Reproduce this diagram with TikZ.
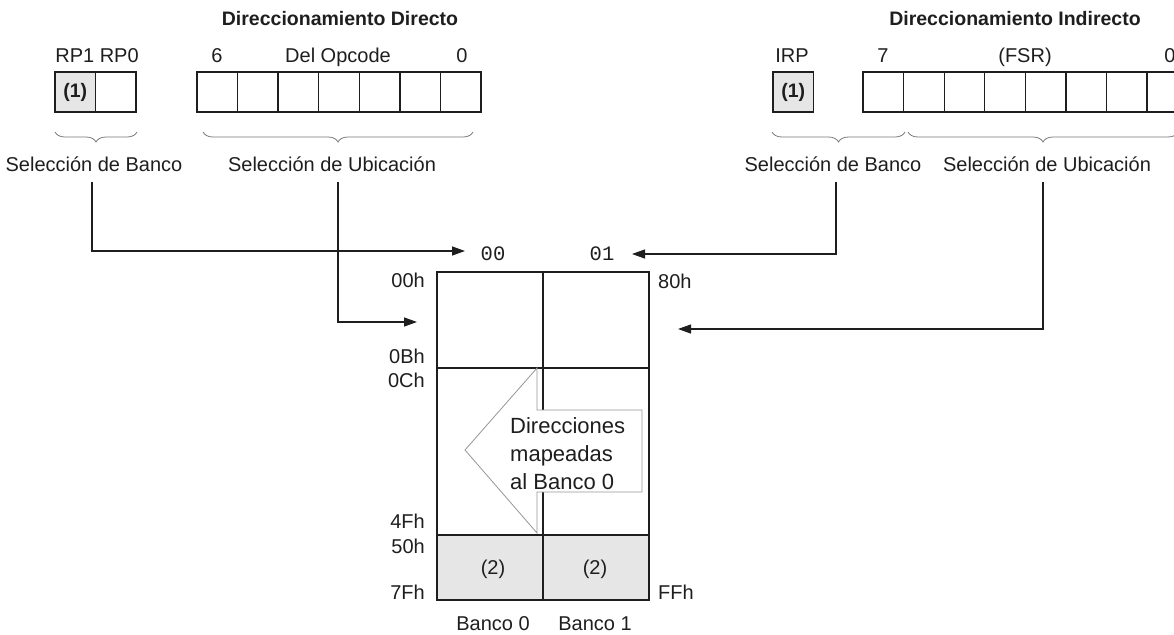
\documentclass[tikz,border=0pt]{standalone}
\usepackage{fontspec}
\setmainfont{Liberation Sans}
\setmonofont{Liberation Mono}
\usetikzlibrary{arrows.meta,decorations.pathreplacing}
\definecolor{cellgray}{RGB}{230,230,230}
\definecolor{bracegray}{RGB}{120,120,120}
\definecolor{arrowgray}{RGB}{150,150,150}
\definecolor{ink}{RGB}{30,30,30}

\begin{document}
\begin{tikzpicture}[x=1pt,y=-1pt,
  every node/.style={text=ink},
  lbl/.style={font=\fontsize{20}{24}\selectfont, inner sep=0, anchor=base},
  ttl/.style={font=\bfseries\fontsize{19.5}{23}\selectfont, inner sep=0, anchor=base},
  mono/.style={font=\ttfamily\fontsize{20.5}{24}\selectfont, inner sep=0, anchor=base},
  big/.style={font=\fontsize{22}{28}\selectfont, inner sep=0, anchor=base west},
  cell/.style={draw=ink, line width=1.3pt, minimum width=40.57pt, minimum height=40pt,
               anchor=north west, inner sep=0, outer sep=0},
  graycell/.style={cell, fill=cellgray, font=\bfseries\fontsize{19.5}{23}\selectfont},
  brc/.style={draw=bracegray, line width=0.8pt,
              decorate, decoration={brace, mirror, amplitude=10pt}},
  conn/.style={draw=ink, line width=1.3pt, -{Triangle[length=13pt,width=9pt]}},
  tbl/.style={draw=ink, line width=1.3pt}
]
\useasboundingbox (0,0) rectangle (1174,634);
\clip (0,0) rectangle (1174,634);

% ---------- direct addressing ----------
\node[ttl] (tD) at (340,26) {Direccionamiento Directo};
\node[lbl] (rp) at (97,63) {RP1 RP0};
\node[lbl] (d6) at (217,63) {6};
\node[lbl] (dop) at (338,63) {Del Opcode};
\node[lbl] (d0) at (462,63) {0};

\node[graycell] (rp1) at (55,72) {(1)};
\node[cell] (rp0) at (rp1.north east) {};
\node[cell] (op0) at (197,72) {};
\foreach \i [evaluate=\i as \j using int(\i-1)] in {1,...,6}
  \node[cell] (op\i) at (op\j.north east) {};

\draw[brc] (55,132) -- (137,132);
\draw[brc] (203,132) -- (473,132);
\node[lbl] (bancoD) at (94,171) {Selección de Banco};
\node[lbl] (ubicD) at (332,171) {Selección de Ubicación};

% ---------- indirect addressing ----------
\node[ttl] (tI) at (1015,26) {Direccionamiento Indirecto};
\node[lbl] (irp) at (792,63) {IRP};
\node[lbl] (i7) at (883,63) {7};
\node[lbl] (fsr) at (1025,63) {(FSR)};
\node[lbl] (i0) at (1170,63) {0};

\node[graycell] (irpb) at (773,72) {(1)};
\node[cell] (fs0) at (863,72) {};
\foreach \i [evaluate=\i as \j using int(\i-1)] in {1,...,7}
  \node[cell] (fs\i) at (fs\j.north east) {};

\draw[brc] (772,132) -- (905,132);
\draw[brc] (908,132) -- (1178,132);
\node[lbl] (bancoI) at (833,171) {Selección de Banco};
\node[lbl] (ubicI) at (1047,171) {Selección de Ubicación};

% ---------- register file ----------
\fill[cellgray] (437,535) rectangle (649,600);
\draw[tbl] (437,272) rectangle (649,600);
\draw[tbl] (437,368) -- (649,368);
\draw[tbl] (437,535) -- (649,535);
\draw[tbl] (543,272) -- (543,600);

\node[mono] (b00) at (493,260) {00};
\node[mono] (b01) at (602,260) {01};

\node[lbl, anchor=base east] (a00) at (425,287) {00h};
\node[lbl, anchor=base east] (a0B) at (425,363) {0Bh};
\node[lbl, anchor=base east] (a0C) at (425,387) {0Ch};
\node[lbl, anchor=base east] (a4F) at (425,528) {4Fh};
\node[lbl, anchor=base east] (a50) at (425,553) {50h};
\node[lbl, anchor=base east] (a7F) at (425,599) {7Fh};
\node[lbl, anchor=base west] (a80) at (658,288) {80h};
\node[lbl, anchor=base west] (aFF) at (658,599) {FFh};

\node[lbl] (n2a) at (493,574) {(2)};
\node[lbl] (n2b) at (595,574) {(2)};
\node[lbl] (bk0) at (493,630) {Banco 0};
\node[lbl] (bk1) at (595,630) {Banco 1};

% mapped-addresses arrow
\draw[draw=arrowgray, fill=white, line width=0.8pt]
  (465,450) -- (537,368) -- (537,410) -- (642,410) -- (642,492)
  -- (537,492) -- (537,533) -- cycle;
\node[big] (m1) at (510,433) {Direcciones};
\node[big] (m2) at (510,461) {mapeadas};
\node[big] (m3) at (510,489) {al Banco 0};

% ---------- connectors ----------
\coordinate (sBD) at (92,182);
\coordinate (sUD) at (338,182);
\coordinate (sBI) at (836,182);
\coordinate (sUI) at (1043,182);
\coordinate (eBD) at (465,251);
\coordinate (eBI) at (632,254);
\coordinate (eUD) at (417,322);
\coordinate (eUI) at (678,329);

\draw[conn] (sBD) |- (eBD);
\draw[conn] (sUD) |- (eUD);
\draw[conn] (sBI) |- (eBI);
\draw[conn] (sUI) |- (eUI);
\end{tikzpicture}
\end{document}
